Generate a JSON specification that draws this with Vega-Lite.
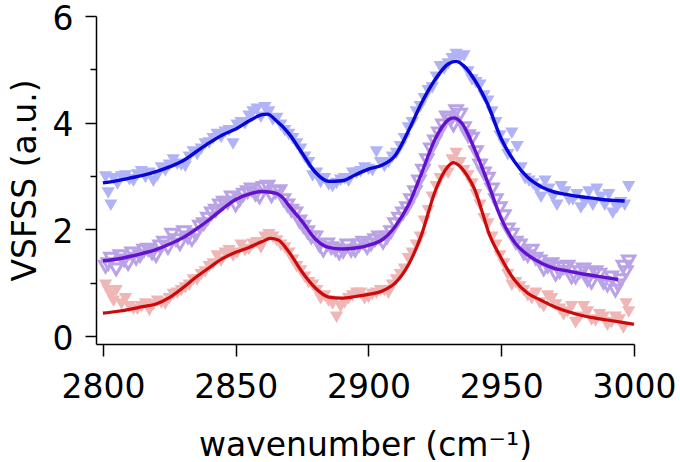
{
  "$schema": "https://vega.github.io/schema/vega-lite/v6.json",
  "width": 538,
  "height": 328,
  "autosize": "none",
  "padding": {"left": 96, "top": 16, "right": 46, "bottom": 118},
  "config": {
    "view": {"stroke": null},
    "font": "DejaVu Sans",
    "axis": {
      "grid": false,
      "domainColor": "#000000",
      "tickColor": "#000000",
      "labelColor": "#000000",
      "titleColor": "#000000",
      "labelFont": "DejaVu Sans",
      "titleFont": "DejaVu Sans",
      "labelFontSize": 33,
      "titleFontSize": 33,
      "titleFontWeight": "normal",
      "domainWidth": 1.5,
      "tickWidth": 1.5
    }
  },
  "datasets": {
    "pts": [
      {"s": "b", "x": 2801, "y": 2.98}, {"s": "b", "x": 2802, "y": 2.68}, {"s": "b", "x": 2803, "y": 2.45}, {"s": "b", "x": 2804, "y": 2.95},
      {"s": "b", "x": 2807, "y": 2.98}, {"s": "b", "x": 2810, "y": 2.93}, {"s": "b", "x": 2813, "y": 3.02}, {"s": "b", "x": 2816, "y": 2.97},
      {"s": "b", "x": 2819, "y": 2.9}, {"s": "b", "x": 2822, "y": 3.15}, {"s": "b", "x": 2825, "y": 3.2}, {"s": "b", "x": 2828, "y": 3.22},
      {"s": "b", "x": 2831, "y": 3.18}, {"s": "b", "x": 2834, "y": 3.45}, {"s": "b", "x": 2837, "y": 3.5}, {"s": "b", "x": 2840, "y": 3.62},
      {"s": "b", "x": 2843, "y": 3.78}, {"s": "b", "x": 2846, "y": 3.82}, {"s": "b", "x": 2849, "y": 3.6}, {"s": "b", "x": 2852, "y": 4.0},
      {"s": "b", "x": 2855, "y": 4.12}, {"s": "b", "x": 2858, "y": 4.25}, {"s": "b", "x": 2861, "y": 4.28}, {"s": "b", "x": 2864, "y": 4.05},
      {"s": "b", "x": 2867, "y": 3.95}, {"s": "b", "x": 2870, "y": 3.78}, {"s": "b", "x": 2873, "y": 3.6}, {"s": "b", "x": 2876, "y": 3.35},
      {"s": "b", "x": 2879, "y": 3.0}, {"s": "b", "x": 2882, "y": 2.88}, {"s": "b", "x": 2885, "y": 2.83}, {"s": "b", "x": 2888, "y": 2.86},
      {"s": "b", "x": 2891, "y": 2.95}, {"s": "b", "x": 2894, "y": 3.05}, {"s": "b", "x": 2897, "y": 3.08}, {"s": "b", "x": 2900, "y": 3.12},
      {"s": "b", "x": 2903, "y": 3.45}, {"s": "b", "x": 2906, "y": 3.18}, {"s": "b", "x": 2909, "y": 3.35}, {"s": "b", "x": 2912, "y": 3.55},
      {"s": "b", "x": 2915, "y": 3.9}, {"s": "b", "x": 2918, "y": 4.2}, {"s": "b", "x": 2921, "y": 4.45}, {"s": "b", "x": 2924, "y": 4.65},
      {"s": "b", "x": 2927, "y": 5.05}, {"s": "b", "x": 2930, "y": 5.1}, {"s": "b", "x": 2933, "y": 5.28}, {"s": "b", "x": 2936, "y": 5.25},
      {"s": "b", "x": 2939, "y": 4.8}, {"s": "b", "x": 2942, "y": 4.7}, {"s": "b", "x": 2945, "y": 4.4}, {"s": "b", "x": 2948, "y": 4.0},
      {"s": "b", "x": 2951, "y": 3.6}, {"s": "b", "x": 2954, "y": 3.8}, {"s": "b", "x": 2956, "y": 3.55}, {"s": "b", "x": 2959, "y": 2.95},
      {"s": "b", "x": 2962, "y": 2.85}, {"s": "b", "x": 2965, "y": 2.6}, {"s": "b", "x": 2968, "y": 2.75}, {"s": "b", "x": 2971, "y": 2.45},
      {"s": "b", "x": 2974, "y": 2.7}, {"s": "b", "x": 2977, "y": 2.55}, {"s": "b", "x": 2980, "y": 2.4}, {"s": "b", "x": 2983, "y": 2.7},
      {"s": "b", "x": 2986, "y": 2.75}, {"s": "b", "x": 2989, "y": 2.45}, {"s": "b", "x": 2992, "y": 2.3}, {"s": "b", "x": 2995, "y": 2.5},
      {"s": "b", "x": 2998, "y": 2.8},
      {"s": "b", "x": 2805.5, "y": 2.85}, {"s": "b", "x": 2808.5, "y": 3.0}, {"s": "b", "x": 2811.5, "y": 2.9}, {"s": "b", "x": 2814.5, "y": 3.08},
      {"s": "b", "x": 2817.5, "y": 3.05}, {"s": "b", "x": 2820.5, "y": 3.0}, {"s": "b", "x": 2823.5, "y": 3.1}, {"s": "b", "x": 2826.5, "y": 3.3},
      {"s": "b", "x": 2829.5, "y": 3.2}, {"s": "b", "x": 2832.5, "y": 3.35}, {"s": "b", "x": 2835.5, "y": 3.4}, {"s": "b", "x": 2838.5, "y": 3.6},
      {"s": "b", "x": 2841.5, "y": 3.7}, {"s": "b", "x": 2844.5, "y": 3.72}, {"s": "b", "x": 2847.5, "y": 3.85}, {"s": "b", "x": 2850.5, "y": 3.95},
      {"s": "b", "x": 2853.5, "y": 3.98}, {"s": "b", "x": 2856.5, "y": 4.2}, {"s": "b", "x": 2859.5, "y": 4.1}, {"s": "b", "x": 2862.5, "y": 4.2},
      {"s": "b", "x": 2865.5, "y": 4.08}, {"s": "b", "x": 2868.5, "y": 3.85}, {"s": "b", "x": 2871.5, "y": 3.7}, {"s": "b", "x": 2874.5, "y": 3.5},
      {"s": "b", "x": 2877.5, "y": 3.25}, {"s": "b", "x": 2880.5, "y": 3.05}, {"s": "b", "x": 2883.5, "y": 2.95}, {"s": "b", "x": 2886.5, "y": 2.8},
      {"s": "b", "x": 2889.5, "y": 2.92}, {"s": "b", "x": 2892.5, "y": 2.9}, {"s": "b", "x": 2895.5, "y": 3.05}, {"s": "b", "x": 2898.5, "y": 3.15},
      {"s": "b", "x": 2901.5, "y": 3.1}, {"s": "b", "x": 2904.5, "y": 3.25}, {"s": "b", "x": 2907.5, "y": 3.25}, {"s": "b", "x": 2910.5, "y": 3.42},
      {"s": "b", "x": 2913.5, "y": 3.7}, {"s": "b", "x": 2916.5, "y": 4.0}, {"s": "b", "x": 2919.5, "y": 4.3}, {"s": "b", "x": 2922.5, "y": 4.6},
      {"s": "b", "x": 2925.5, "y": 4.85}, {"s": "b", "x": 2928.5, "y": 5.0}, {"s": "b", "x": 2931.5, "y": 5.2}, {"s": "b", "x": 2934.5, "y": 5.22},
      {"s": "b", "x": 2937.5, "y": 4.95}, {"s": "b", "x": 2940.5, "y": 4.75}, {"s": "b", "x": 2943.5, "y": 4.5}, {"s": "b", "x": 2946.5, "y": 4.2},
      {"s": "b", "x": 2949.5, "y": 3.75}, {"s": "b", "x": 2952.5, "y": 3.4}, {"s": "b", "x": 2957.5, "y": 3.15}, {"s": "b", "x": 2960.5, "y": 2.9},
      {"s": "b", "x": 2963.5, "y": 2.75}, {"s": "b", "x": 2966.5, "y": 2.9}, {"s": "b", "x": 2969.5, "y": 2.6}, {"s": "b", "x": 2972.5, "y": 2.8},
      {"s": "b", "x": 2975.5, "y": 2.55}, {"s": "b", "x": 2978.5, "y": 2.65}, {"s": "b", "x": 2981.5, "y": 2.5}, {"s": "b", "x": 2984.5, "y": 2.45},
      {"s": "b", "x": 2987.5, "y": 2.6}, {"s": "b", "x": 2990.5, "y": 2.65}, {"s": "b", "x": 2993.5, "y": 2.4}, {"s": "b", "x": 2996.5, "y": 2.45},

      {"s": "p", "x": 2801, "y": 1.3}, {"s": "p", "x": 2803, "y": 1.45}, {"s": "p", "x": 2805, "y": 1.25}, {"s": "p", "x": 2808, "y": 1.42},
      {"s": "p", "x": 2811, "y": 1.55}, {"s": "p", "x": 2814, "y": 1.5}, {"s": "p", "x": 2817, "y": 1.62}, {"s": "p", "x": 2820, "y": 1.5},
      {"s": "p", "x": 2823, "y": 1.75}, {"s": "p", "x": 2826, "y": 1.9}, {"s": "p", "x": 2829, "y": 1.72}, {"s": "p", "x": 2832, "y": 1.85},
      {"s": "p", "x": 2835, "y": 1.9}, {"s": "p", "x": 2838, "y": 2.1}, {"s": "p", "x": 2841, "y": 2.3}, {"s": "p", "x": 2844, "y": 2.45},
      {"s": "p", "x": 2847, "y": 2.5}, {"s": "p", "x": 2850, "y": 2.45}, {"s": "p", "x": 2853, "y": 2.65}, {"s": "p", "x": 2856, "y": 2.75},
      {"s": "p", "x": 2859, "y": 2.6}, {"s": "p", "x": 2862, "y": 2.8}, {"s": "p", "x": 2865, "y": 2.7}, {"s": "p", "x": 2868, "y": 2.55},
      {"s": "p", "x": 2871, "y": 2.35}, {"s": "p", "x": 2874, "y": 2.15}, {"s": "p", "x": 2877, "y": 1.95}, {"s": "p", "x": 2880, "y": 1.85},
      {"s": "p", "x": 2883, "y": 1.6}, {"s": "p", "x": 2886, "y": 1.65}, {"s": "p", "x": 2889, "y": 1.55}, {"s": "p", "x": 2892, "y": 1.7},
      {"s": "p", "x": 2895, "y": 1.6}, {"s": "p", "x": 2898, "y": 1.75}, {"s": "p", "x": 2901, "y": 1.72}, {"s": "p", "x": 2904, "y": 1.85},
      {"s": "p", "x": 2907, "y": 1.85}, {"s": "p", "x": 2910, "y": 2.1}, {"s": "p", "x": 2913, "y": 2.3}, {"s": "p", "x": 2916, "y": 2.55},
      {"s": "p", "x": 2919, "y": 2.9}, {"s": "p", "x": 2922, "y": 3.3}, {"s": "p", "x": 2925, "y": 3.65}, {"s": "p", "x": 2928, "y": 3.95},
      {"s": "p", "x": 2931, "y": 4.05}, {"s": "p", "x": 2933, "y": 4.22}, {"s": "p", "x": 2936, "y": 3.9}, {"s": "p", "x": 2939, "y": 3.7},
      {"s": "p", "x": 2942, "y": 3.2}, {"s": "p", "x": 2945, "y": 2.95}, {"s": "p", "x": 2948, "y": 2.55}, {"s": "p", "x": 2951, "y": 2.25},
      {"s": "p", "x": 2954, "y": 1.9}, {"s": "p", "x": 2957, "y": 1.7}, {"s": "p", "x": 2960, "y": 1.5}, {"s": "p", "x": 2963, "y": 1.45},
      {"s": "p", "x": 2966, "y": 1.25}, {"s": "p", "x": 2969, "y": 1.35}, {"s": "p", "x": 2972, "y": 1.2}, {"s": "p", "x": 2975, "y": 1.3},
      {"s": "p", "x": 2978, "y": 1.1}, {"s": "p", "x": 2981, "y": 1.25}, {"s": "p", "x": 2984, "y": 1.0}, {"s": "p", "x": 2987, "y": 1.15},
      {"s": "p", "x": 2990, "y": 0.95}, {"s": "p", "x": 2993, "y": 0.85}, {"s": "p", "x": 2995, "y": 1.05}, {"s": "p", "x": 2997, "y": 1.2},
      {"s": "p", "x": 2998, "y": 1.4},
      {"s": "p", "x": 2802, "y": 1.35}, {"s": "p", "x": 2806.5, "y": 1.5}, {"s": "p", "x": 2809.5, "y": 1.35}, {"s": "p", "x": 2812.5, "y": 1.45},
      {"s": "p", "x": 2815.5, "y": 1.6}, {"s": "p", "x": 2818.5, "y": 1.55}, {"s": "p", "x": 2821.5, "y": 1.68}, {"s": "p", "x": 2824.5, "y": 1.65},
      {"s": "p", "x": 2827.5, "y": 1.8}, {"s": "p", "x": 2830.5, "y": 1.95}, {"s": "p", "x": 2833.5, "y": 1.8}, {"s": "p", "x": 2836.5, "y": 2.05},
      {"s": "p", "x": 2839.5, "y": 2.2}, {"s": "p", "x": 2842.5, "y": 2.35}, {"s": "p", "x": 2845.5, "y": 2.5}, {"s": "p", "x": 2848.5, "y": 2.6},
      {"s": "p", "x": 2851.5, "y": 2.55}, {"s": "p", "x": 2854.5, "y": 2.7}, {"s": "p", "x": 2857.5, "y": 2.65}, {"s": "p", "x": 2860.5, "y": 2.78},
      {"s": "p", "x": 2863.5, "y": 2.62}, {"s": "p", "x": 2866.5, "y": 2.72}, {"s": "p", "x": 2869.5, "y": 2.45}, {"s": "p", "x": 2872.5, "y": 2.3},
      {"s": "p", "x": 2875.5, "y": 2.05}, {"s": "p", "x": 2878.5, "y": 1.85}, {"s": "p", "x": 2881.5, "y": 1.7}, {"s": "p", "x": 2884.5, "y": 1.72},
      {"s": "p", "x": 2887.5, "y": 1.62}, {"s": "p", "x": 2890.5, "y": 1.58}, {"s": "p", "x": 2893.5, "y": 1.6}, {"s": "p", "x": 2896.5, "y": 1.7},
      {"s": "p", "x": 2899.5, "y": 1.65}, {"s": "p", "x": 2902.5, "y": 1.8}, {"s": "p", "x": 2905.5, "y": 1.75}, {"s": "p", "x": 2908.5, "y": 1.95},
      {"s": "p", "x": 2911.5, "y": 2.2}, {"s": "p", "x": 2914.5, "y": 2.4}, {"s": "p", "x": 2917.5, "y": 2.7}, {"s": "p", "x": 2920.5, "y": 3.1},
      {"s": "p", "x": 2923.5, "y": 3.5}, {"s": "p", "x": 2926.5, "y": 3.8}, {"s": "p", "x": 2929.5, "y": 4.1}, {"s": "p", "x": 2932, "y": 3.95},
      {"s": "p", "x": 2934.5, "y": 4.15}, {"s": "p", "x": 2937.5, "y": 3.75}, {"s": "p", "x": 2940.5, "y": 3.45}, {"s": "p", "x": 2943.5, "y": 3.05},
      {"s": "p", "x": 2946.5, "y": 2.75}, {"s": "p", "x": 2949.5, "y": 2.4}, {"s": "p", "x": 2952.5, "y": 2.0}, {"s": "p", "x": 2955.5, "y": 1.75},
      {"s": "p", "x": 2958.5, "y": 1.55}, {"s": "p", "x": 2961.5, "y": 1.6}, {"s": "p", "x": 2964.5, "y": 1.4}, {"s": "p", "x": 2967.5, "y": 1.3},
      {"s": "p", "x": 2970.5, "y": 1.15}, {"s": "p", "x": 2973.5, "y": 1.28}, {"s": "p", "x": 2976.5, "y": 1.1}, {"s": "p", "x": 2979.5, "y": 1.2},
      {"s": "p", "x": 2982.5, "y": 1.05}, {"s": "p", "x": 2985.5, "y": 1.2}, {"s": "p", "x": 2988.5, "y": 1.0}, {"s": "p", "x": 2991.5, "y": 1.1},
      {"s": "p", "x": 2994, "y": 0.95}, {"s": "p", "x": 2996, "y": 1.3},

      {"s": "r", "x": 2801, "y": 0.95}, {"s": "r", "x": 2803, "y": 0.75}, {"s": "r", "x": 2805, "y": 0.85}, {"s": "r", "x": 2807, "y": 0.6},
      {"s": "r", "x": 2810, "y": 0.55}, {"s": "r", "x": 2813, "y": 0.5}, {"s": "r", "x": 2816, "y": 0.6}, {"s": "r", "x": 2819, "y": 0.58},
      {"s": "r", "x": 2822, "y": 0.62}, {"s": "r", "x": 2825, "y": 0.7}, {"s": "r", "x": 2828, "y": 0.8}, {"s": "r", "x": 2831, "y": 0.9},
      {"s": "r", "x": 2834, "y": 1.05}, {"s": "r", "x": 2837, "y": 1.15}, {"s": "r", "x": 2840, "y": 1.3}, {"s": "r", "x": 2843, "y": 1.5},
      {"s": "r", "x": 2846, "y": 1.55}, {"s": "r", "x": 2849, "y": 1.5}, {"s": "r", "x": 2852, "y": 1.7}, {"s": "r", "x": 2855, "y": 1.62},
      {"s": "r", "x": 2858, "y": 1.75}, {"s": "r", "x": 2861, "y": 1.85}, {"s": "r", "x": 2864, "y": 1.85}, {"s": "r", "x": 2867, "y": 1.7},
      {"s": "r", "x": 2870, "y": 1.55}, {"s": "r", "x": 2873, "y": 1.3}, {"s": "r", "x": 2876, "y": 1.1}, {"s": "r", "x": 2879, "y": 0.95},
      {"s": "r", "x": 2882, "y": 0.7}, {"s": "r", "x": 2885, "y": 0.65}, {"s": "r", "x": 2888, "y": 0.35}, {"s": "r", "x": 2891, "y": 0.62},
      {"s": "r", "x": 2894, "y": 0.75}, {"s": "r", "x": 2897, "y": 0.8}, {"s": "r", "x": 2900, "y": 0.72}, {"s": "r", "x": 2903, "y": 0.8},
      {"s": "r", "x": 2906, "y": 0.85}, {"s": "r", "x": 2909, "y": 0.95}, {"s": "r", "x": 2912, "y": 1.15}, {"s": "r", "x": 2915, "y": 1.45},
      {"s": "r", "x": 2918, "y": 1.7}, {"s": "r", "x": 2921, "y": 2.15}, {"s": "r", "x": 2924, "y": 2.6}, {"s": "r", "x": 2927, "y": 2.95},
      {"s": "r", "x": 2930, "y": 3.05}, {"s": "r", "x": 2933, "y": 3.42}, {"s": "r", "x": 2936, "y": 3.1}, {"s": "r", "x": 2939, "y": 2.85},
      {"s": "r", "x": 2942, "y": 2.45}, {"s": "r", "x": 2945, "y": 2.1}, {"s": "r", "x": 2948, "y": 1.7}, {"s": "r", "x": 2951, "y": 1.35},
      {"s": "r", "x": 2954, "y": 0.95}, {"s": "r", "x": 2957, "y": 0.92}, {"s": "r", "x": 2960, "y": 0.75}, {"s": "r", "x": 2963, "y": 0.8},
      {"s": "r", "x": 2966, "y": 0.55}, {"s": "r", "x": 2969, "y": 0.7}, {"s": "r", "x": 2972, "y": 0.5}, {"s": "r", "x": 2975, "y": 0.45},
      {"s": "r", "x": 2978, "y": 0.25}, {"s": "r", "x": 2981, "y": 0.55}, {"s": "r", "x": 2984, "y": 0.3}, {"s": "r", "x": 2987, "y": 0.4},
      {"s": "r", "x": 2990, "y": 0.2}, {"s": "r", "x": 2993, "y": 0.35}, {"s": "r", "x": 2996, "y": 0.15}, {"s": "r", "x": 2998, "y": 0.45},
      {"s": "r", "x": 2802, "y": 0.85}, {"s": "r", "x": 2804, "y": 0.65}, {"s": "r", "x": 2808.5, "y": 0.7}, {"s": "r", "x": 2811.5, "y": 0.5},
      {"s": "r", "x": 2814.5, "y": 0.55}, {"s": "r", "x": 2817.5, "y": 0.48}, {"s": "r", "x": 2820.5, "y": 0.65}, {"s": "r", "x": 2823.5, "y": 0.6},
      {"s": "r", "x": 2826.5, "y": 0.78}, {"s": "r", "x": 2829.5, "y": 0.85}, {"s": "r", "x": 2832.5, "y": 0.95}, {"s": "r", "x": 2835.5, "y": 1.05},
      {"s": "r", "x": 2838.5, "y": 1.2}, {"s": "r", "x": 2841.5, "y": 1.35}, {"s": "r", "x": 2844.5, "y": 1.4}, {"s": "r", "x": 2847.5, "y": 1.6},
      {"s": "r", "x": 2850.5, "y": 1.55}, {"s": "r", "x": 2853.5, "y": 1.6}, {"s": "r", "x": 2856.5, "y": 1.72}, {"s": "r", "x": 2859.5, "y": 1.65},
      {"s": "r", "x": 2862.5, "y": 1.9}, {"s": "r", "x": 2865.5, "y": 1.78}, {"s": "r", "x": 2868.5, "y": 1.65}, {"s": "r", "x": 2871.5, "y": 1.42},
      {"s": "r", "x": 2874.5, "y": 1.22}, {"s": "r", "x": 2877.5, "y": 1.0}, {"s": "r", "x": 2880.5, "y": 0.85}, {"s": "r", "x": 2883.5, "y": 0.75},
      {"s": "r", "x": 2886.5, "y": 0.6}, {"s": "r", "x": 2889.5, "y": 0.55}, {"s": "r", "x": 2892.5, "y": 0.7}, {"s": "r", "x": 2895.5, "y": 0.8},
      {"s": "r", "x": 2898.5, "y": 0.7}, {"s": "r", "x": 2901.5, "y": 0.78}, {"s": "r", "x": 2904.5, "y": 0.85}, {"s": "r", "x": 2907.5, "y": 0.8},
      {"s": "r", "x": 2910.5, "y": 1.05}, {"s": "r", "x": 2913.5, "y": 1.25}, {"s": "r", "x": 2916.5, "y": 1.55}, {"s": "r", "x": 2919.5, "y": 1.85},
      {"s": "r", "x": 2922.5, "y": 2.35}, {"s": "r", "x": 2925.5, "y": 2.8}, {"s": "r", "x": 2928.5, "y": 3.1}, {"s": "r", "x": 2931.5, "y": 3.3},
      {"s": "r", "x": 2934.5, "y": 3.25}, {"s": "r", "x": 2937.5, "y": 3.0}, {"s": "r", "x": 2940.5, "y": 2.65}, {"s": "r", "x": 2943.5, "y": 2.2},
      {"s": "r", "x": 2946.5, "y": 1.85}, {"s": "r", "x": 2949.5, "y": 1.5}, {"s": "r", "x": 2952.5, "y": 1.15}, {"s": "r", "x": 2955.5, "y": 1.0},
      {"s": "r", "x": 2958.5, "y": 0.85}, {"s": "r", "x": 2961.5, "y": 0.7}, {"s": "r", "x": 2964.5, "y": 0.62}, {"s": "r", "x": 2967.5, "y": 0.75},
      {"s": "r", "x": 2970.5, "y": 0.58}, {"s": "r", "x": 2973.5, "y": 0.4}, {"s": "r", "x": 2976.5, "y": 0.55}, {"s": "r", "x": 2979.5, "y": 0.35},
      {"s": "r", "x": 2982.5, "y": 0.45}, {"s": "r", "x": 2985.5, "y": 0.28}, {"s": "r", "x": 2988.5, "y": 0.35}, {"s": "r", "x": 2991.5, "y": 0.25},
      {"s": "r", "x": 2994.5, "y": 0.3}, {"s": "r", "x": 2997, "y": 0.6}
    ],
    "lines": [
      {"s": "b", "x": 2800, "y": 2.87}, {"s": "b", "x": 2805, "y": 2.91}, {"s": "b", "x": 2810, "y": 2.96}, {"s": "b", "x": 2815, "y": 3.01},
      {"s": "b", "x": 2820, "y": 3.08}, {"s": "b", "x": 2825, "y": 3.17}, {"s": "b", "x": 2830, "y": 3.28}, {"s": "b", "x": 2835, "y": 3.45},
      {"s": "b", "x": 2840, "y": 3.62}, {"s": "b", "x": 2845, "y": 3.77}, {"s": "b", "x": 2850, "y": 3.88}, {"s": "b", "x": 2855, "y": 4.03},
      {"s": "b", "x": 2860, "y": 4.15}, {"s": "b", "x": 2862, "y": 4.16}, {"s": "b", "x": 2865, "y": 4.05}, {"s": "b", "x": 2870, "y": 3.8},
      {"s": "b", "x": 2875, "y": 3.43}, {"s": "b", "x": 2880, "y": 3.07}, {"s": "b", "x": 2885, "y": 2.9}, {"s": "b", "x": 2890, "y": 2.91},
      {"s": "b", "x": 2895, "y": 3.02}, {"s": "b", "x": 2900, "y": 3.13}, {"s": "b", "x": 2905, "y": 3.2}, {"s": "b", "x": 2910, "y": 3.38},
      {"s": "b", "x": 2915, "y": 3.84}, {"s": "b", "x": 2920, "y": 4.37}, {"s": "b", "x": 2925, "y": 4.8}, {"s": "b", "x": 2930, "y": 5.1},
      {"s": "b", "x": 2933, "y": 5.15}, {"s": "b", "x": 2936, "y": 5.06}, {"s": "b", "x": 2940, "y": 4.8}, {"s": "b", "x": 2945, "y": 4.33},
      {"s": "b", "x": 2950, "y": 3.7}, {"s": "b", "x": 2955, "y": 3.27}, {"s": "b", "x": 2960, "y": 2.97}, {"s": "b", "x": 2965, "y": 2.8},
      {"s": "b", "x": 2970, "y": 2.7}, {"s": "b", "x": 2975, "y": 2.65}, {"s": "b", "x": 2980, "y": 2.61}, {"s": "b", "x": 2985, "y": 2.58},
      {"s": "b", "x": 2990, "y": 2.55}, {"s": "b", "x": 2996.5, "y": 2.53},

      {"s": "p", "x": 2800, "y": 1.41}, {"s": "p", "x": 2805, "y": 1.44}, {"s": "p", "x": 2810, "y": 1.49}, {"s": "p", "x": 2815, "y": 1.55},
      {"s": "p", "x": 2820, "y": 1.62}, {"s": "p", "x": 2825, "y": 1.72}, {"s": "p", "x": 2830, "y": 1.84}, {"s": "p", "x": 2835, "y": 2.0},
      {"s": "p", "x": 2840, "y": 2.18}, {"s": "p", "x": 2845, "y": 2.38}, {"s": "p", "x": 2850, "y": 2.56}, {"s": "p", "x": 2855, "y": 2.66},
      {"s": "p", "x": 2860, "y": 2.71}, {"s": "p", "x": 2865, "y": 2.68}, {"s": "p", "x": 2868, "y": 2.58}, {"s": "p", "x": 2870, "y": 2.45},
      {"s": "p", "x": 2875, "y": 2.15}, {"s": "p", "x": 2880, "y": 1.82}, {"s": "p", "x": 2885, "y": 1.66}, {"s": "p", "x": 2890, "y": 1.63},
      {"s": "p", "x": 2895, "y": 1.65}, {"s": "p", "x": 2900, "y": 1.7}, {"s": "p", "x": 2905, "y": 1.8}, {"s": "p", "x": 2910, "y": 2.05},
      {"s": "p", "x": 2915, "y": 2.45}, {"s": "p", "x": 2920, "y": 3.05}, {"s": "p", "x": 2925, "y": 3.68}, {"s": "p", "x": 2930, "y": 4.05},
      {"s": "p", "x": 2932, "y": 4.09}, {"s": "p", "x": 2935, "y": 4.0}, {"s": "p", "x": 2940, "y": 3.5}, {"s": "p", "x": 2945, "y": 2.87},
      {"s": "p", "x": 2950, "y": 2.2}, {"s": "p", "x": 2955, "y": 1.76}, {"s": "p", "x": 2960, "y": 1.52}, {"s": "p", "x": 2965, "y": 1.37},
      {"s": "p", "x": 2970, "y": 1.27}, {"s": "p", "x": 2975, "y": 1.22}, {"s": "p", "x": 2980, "y": 1.17}, {"s": "p", "x": 2985, "y": 1.13},
      {"s": "p", "x": 2990, "y": 1.09}, {"s": "p", "x": 2994, "y": 1.06},

      {"s": "r", "x": 2800, "y": 0.43}, {"s": "r", "x": 2805, "y": 0.46}, {"s": "r", "x": 2810, "y": 0.5}, {"s": "r", "x": 2815, "y": 0.55},
      {"s": "r", "x": 2820, "y": 0.6}, {"s": "r", "x": 2825, "y": 0.72}, {"s": "r", "x": 2830, "y": 0.9}, {"s": "r", "x": 2835, "y": 1.1},
      {"s": "r", "x": 2840, "y": 1.28}, {"s": "r", "x": 2845, "y": 1.45}, {"s": "r", "x": 2850, "y": 1.57}, {"s": "r", "x": 2855, "y": 1.66},
      {"s": "r", "x": 2860, "y": 1.77}, {"s": "r", "x": 2863, "y": 1.83}, {"s": "r", "x": 2866, "y": 1.8}, {"s": "r", "x": 2870, "y": 1.58},
      {"s": "r", "x": 2875, "y": 1.2}, {"s": "r", "x": 2880, "y": 0.9}, {"s": "r", "x": 2885, "y": 0.73}, {"s": "r", "x": 2890, "y": 0.71},
      {"s": "r", "x": 2895, "y": 0.74}, {"s": "r", "x": 2900, "y": 0.78}, {"s": "r", "x": 2905, "y": 0.84}, {"s": "r", "x": 2910, "y": 0.99},
      {"s": "r", "x": 2915, "y": 1.33}, {"s": "r", "x": 2920, "y": 1.9}, {"s": "r", "x": 2925, "y": 2.7}, {"s": "r", "x": 2930, "y": 3.18},
      {"s": "r", "x": 2932, "y": 3.25}, {"s": "r", "x": 2934, "y": 3.2}, {"s": "r", "x": 2937, "y": 3.02}, {"s": "r", "x": 2940, "y": 2.75},
      {"s": "r", "x": 2943, "y": 2.3}, {"s": "r", "x": 2945, "y": 1.98}, {"s": "r", "x": 2950, "y": 1.46}, {"s": "r", "x": 2955, "y": 1.05},
      {"s": "r", "x": 2960, "y": 0.8}, {"s": "r", "x": 2965, "y": 0.67}, {"s": "r", "x": 2970, "y": 0.55}, {"s": "r", "x": 2975, "y": 0.46},
      {"s": "r", "x": 2980, "y": 0.39}, {"s": "r", "x": 2985, "y": 0.34}, {"s": "r", "x": 2990, "y": 0.3}, {"s": "r", "x": 2995, "y": 0.26},
      {"s": "r", "x": 3000, "y": 0.22}
    ]
  },
  "encoding": {
    "x": {
      "field": "x", "type": "quantitative",
      "scale": {"domain": [2797.4, 3000], "nice": false, "zero": false},
      "axis": {
        "values": [2800, 2850, 2900, 2950, 3000],
        "format": "d",
        "tickSize": 12,
        "labelPadding": 15,
        "labelFlush": false,
        "title": "wavenumber (cm⁻¹)",
        "titlePadding": 25
      }
    },
    "y": {
      "field": "y", "type": "quantitative",
      "scale": {"domain": [-0.15, 6], "nice": false, "zero": false},
      "axis": {
        "values": [0, 1, 2, 3, 4, 5, 6],
        "labelExpr": "datum.value % 2 === 0 ? datum.label : ''",
        "tickSize": {"condition": {"test": "datum.value % 2 === 0", "value": 11}, "value": 6},
        "labelPadding": 12,
        "labelOffset": 3,
        "labelFlush": false,
        "title": "VSFSS (a.u.)",
        "titlePadding": 10
      }
    }
  },
  "layer": [
    {
      "data": {"name": "pts"},
      "transform": [{"filter": "datum.s === 'b'"}],
      "mark": {"type": "point", "shape": "triangle-down", "filled": true, "size": 175, "color": "#b1b3f7", "opacity": 1}
    },
    {
      "data": {"name": "lines"},
      "transform": [{"filter": "datum.s === 'b'"}],
      "mark": {"type": "line", "color": "#0606d8", "strokeWidth": 3.4, "interpolate": "monotone"}
    },
    {
      "data": {"name": "pts"},
      "transform": [{"filter": "datum.s === 'p'"}],
      "mark": {"type": "point", "shape": "triangle-down", "filled": false, "size": 150, "color": "#b9a2e6", "strokeWidth": 3, "opacity": 1}
    },
    {
      "data": {"name": "lines"},
      "transform": [{"filter": "datum.s === 'p'"}],
      "mark": {"type": "line", "color": "#6410cf", "strokeWidth": 3.4, "interpolate": "monotone"}
    },
    {
      "data": {"name": "pts"},
      "transform": [{"filter": "datum.s === 'r'"}],
      "mark": {"type": "point", "shape": "triangle-down", "filled": true, "size": 175, "color": "#f0b6b6", "opacity": 1}
    },
    {
      "data": {"name": "lines"},
      "transform": [{"filter": "datum.s === 'r'"}],
      "mark": {"type": "line", "color": "#cc0a0a", "strokeWidth": 3.2, "interpolate": "monotone"}
    }
  ]
}
